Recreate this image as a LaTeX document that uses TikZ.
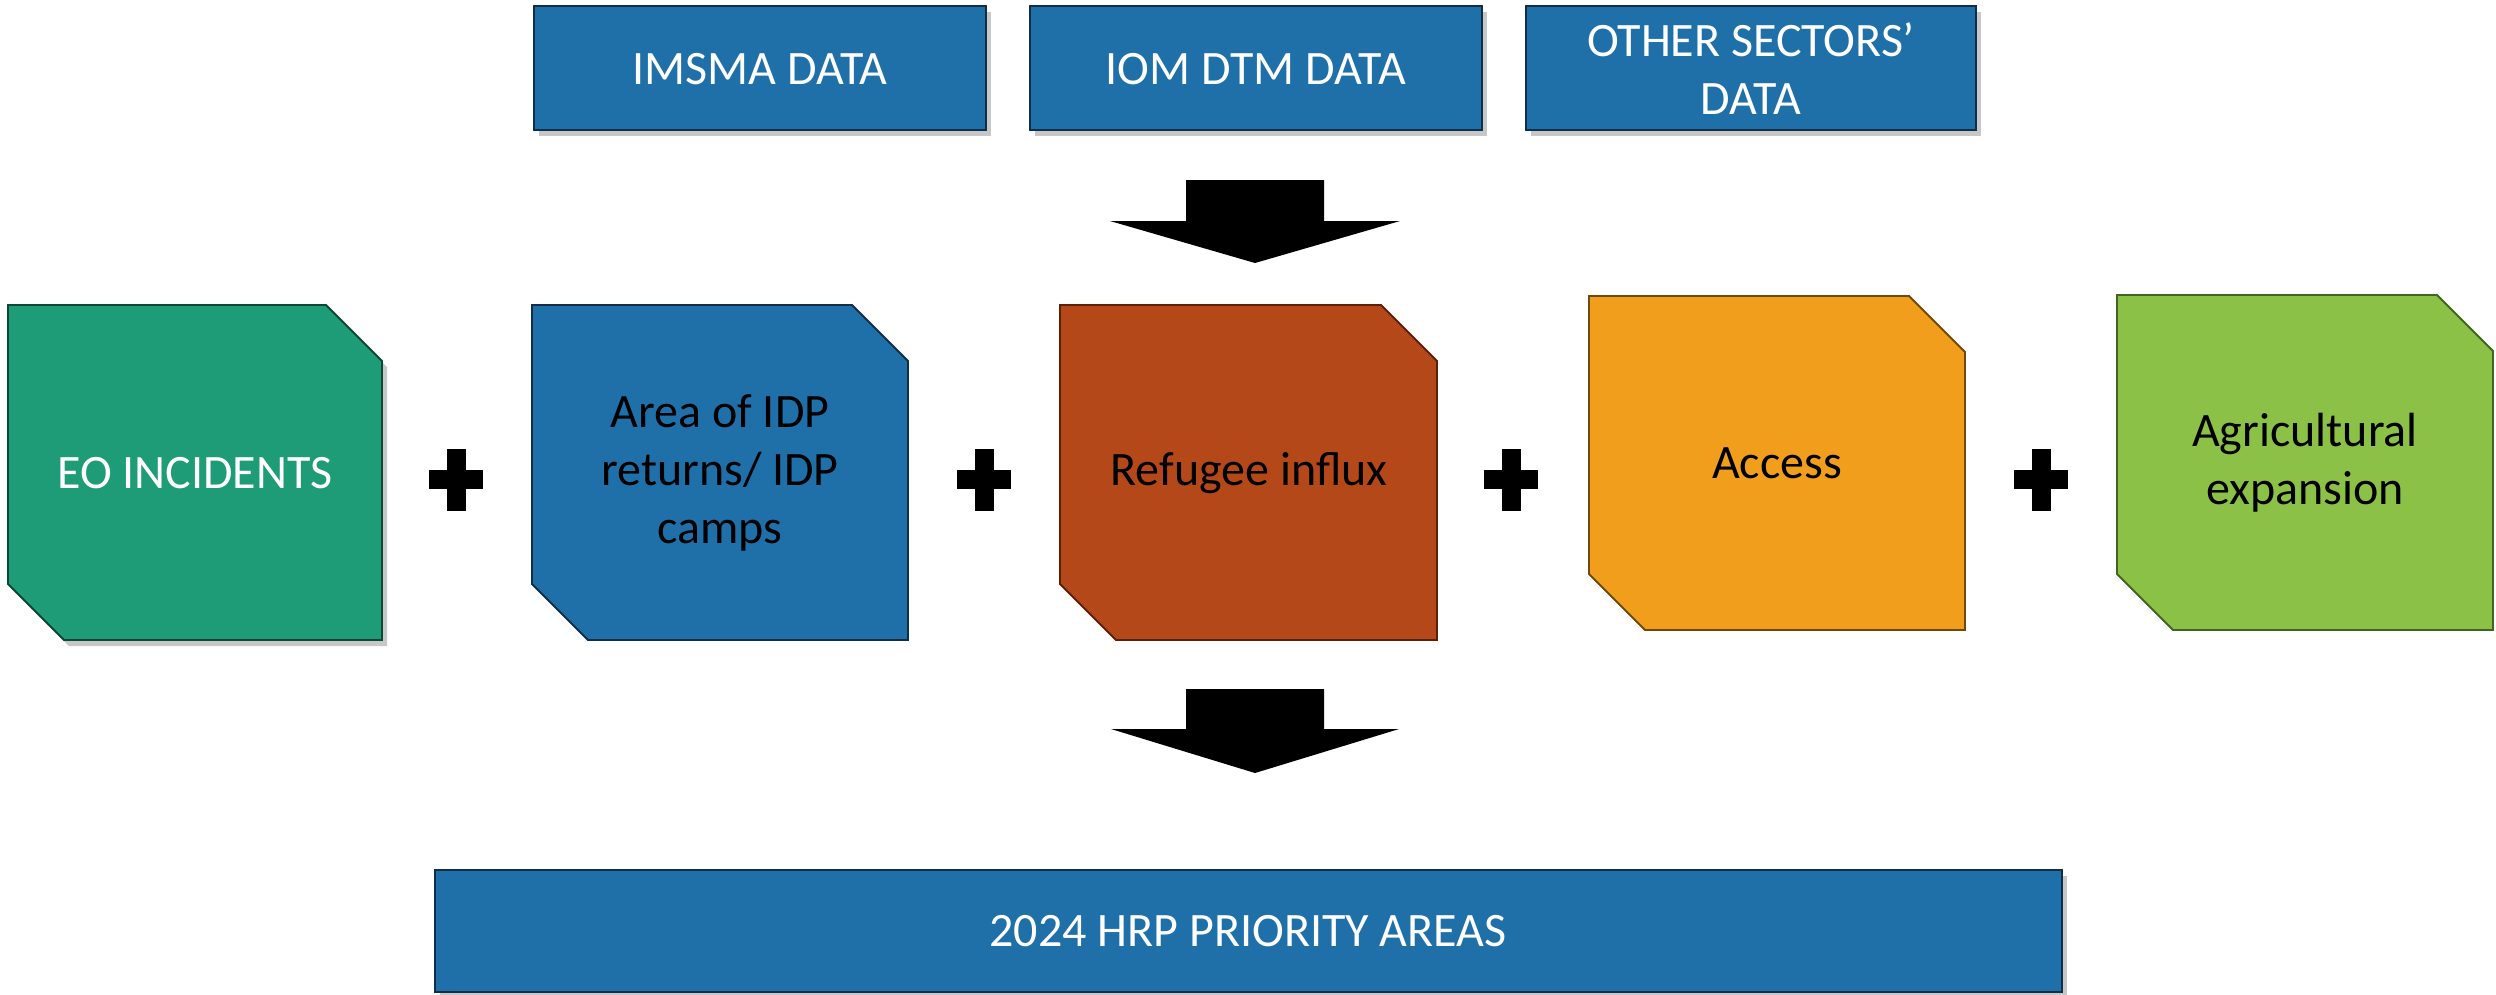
\documentclass[tikz,border=0pt]{standalone}
\usepackage{fontspec}
\setmainfont{Carlito}

\definecolor{eoGreen}{RGB}{30,155,119}
\definecolor{eoGreenLine}{RGB}{14,72,52}
\definecolor{dataBlue}{RGB}{31,112,169}
\definecolor{dataBlueLine}{RGB}{16,46,72}
\definecolor{refugeeRust}{RGB}{181,72,25}
\definecolor{refugeeRustLine}{RGB}{92,32,10}
\definecolor{accessOrange}{RGB}{241,158,29}
\definecolor{accessOrangeLine}{RGB}{110,74,12}
\definecolor{agriGreen}{RGB}{139,193,70}
\definecolor{agriGreenLine}{RGB}{66,100,30}

\tikzset{every picture/.style={line width=0.75pt}}
\tikzset{
  boxtext/.style={align=center, inner sep=0.75pt, font=\fontsize{19.2}{23.2}\selectfont},
  boxshadow/.style={fill=black, fill opacity=0.22, draw=none}
}

\begin{document}
\begin{tikzpicture}[x=0.4pt,y=0.4pt,yscale=-1,xscale=1]
		\path[use as bounding box] (0,0) rectangle (2496,994);

		%Shape: Rectangle [IMSMA]
		\path [boxshadow] (539,12) rectangle (991,136);
		\draw [color=dataBlueLine, fill=dataBlue, line width=1.1pt] (534,6) rectangle (986,130);
		%Shape: Rectangle [IOM DTM]
		\path [boxshadow] (1035,12) rectangle (1487,136);
		\draw [color=dataBlueLine, fill=dataBlue, line width=1.1pt] (1030,6) rectangle (1482,130);
		%Shape: Rectangle [other sectors]
		\path [boxshadow] (1531,12) rectangle (1981,136);
		\draw [color=dataBlueLine, fill=dataBlue, line width=1.1pt] (1526,6) rectangle (1976,130);

		%Shape: Down Arrow [top]
		\fill [black] (1186,180) -- (1324,180) -- (1324,221) -- (1400,221) -- (1255,263) -- (1110,221) -- (1186,221) -- cycle;

		%Shape: Snip Corner [EO]
		\path [boxshadow] (13,311) -- (331,311) -- (387,367) -- (387,646) -- (69,646) -- (13,590) -- cycle;
		\draw [color=eoGreenLine, fill=eoGreen] (8,305) -- (326,305) -- (382,361) -- (382,640) -- (64,640) -- (8,584) -- cycle;
		%Shape: Snip Corner [IDP]
		\draw [color=dataBlueLine, fill=dataBlue] (532,305) -- (852,305) -- (908,361) -- (908,640) -- (588,640) -- (532,584) -- cycle;
		%Shape: Snip Corner [refugee]
		\draw [color=refugeeRustLine, fill=refugeeRust] (1060,305) -- (1381,305) -- (1437,361) -- (1437,640) -- (1116,640) -- (1060,584) -- cycle;
		%Shape: Snip Corner [access]
		\draw [color=accessOrangeLine, fill=accessOrange] (1589,296) -- (1909,296) -- (1965,352) -- (1965,630) -- (1645,630) -- (1589,574) -- cycle;
		%Shape: Snip Corner [agri]
		\draw [color=agriGreenLine, fill=agriGreen] (2117,295) -- (2437,295) -- (2493,351) -- (2493,630) -- (2173,630) -- (2117,574) -- cycle;

		%Shape: Plus signs
		\foreach \px in {456,984,1511,2041} {
			\fill [black] (\px-9.5,449) rectangle (\px+9.5,511);
			\fill [black] (\px-27,470) rectangle (\px+27,489);
		}

		%Shape: Down Arrow [bottom]
		\fill [black] (1186,689) -- (1324,689) -- (1324,729) -- (1399,729) -- (1255,773) -- (1111,729) -- (1186,729) -- cycle;

		%Shape: Rectangle [HRP]
		\path [boxshadow] (440,876) rectangle (2067,998);
		\draw [color=dataBlueLine, fill=dataBlue, line width=1.1pt] (435,870) rectangle (2062,992);

		% Text Node
		\node [boxtext, text=white] (imsma) at (760,69) {IMSMA DATA};
		% Text Node
		\node [boxtext, text=white] (iomdtm) at (1256,69) {IOM DTM DATA};
		% Text Node
		\node [boxtext, text=white] (othersec) at (1751,69) {OTHER SECTORS'\\DATA};
		% Text Node
		\node [boxtext, text=white] (eo) at (195,473) {EO INCIDENTS};
		% Text Node
		\node [boxtext] (idp) at (720,473) {Area of IDP\\returns/ IDP\\camps};
		% Text Node
		\node [boxtext] (refugee) at (1249,473) {Refugee influx};
		% Text Node
		\node [boxtext] (access) at (1777,463) {Access};
		% Text Node
		\node [boxtext] (agri) at (2305,463) {Agricultural\\expansion};
		% Text Node
		\node [boxtext, text=white] (hrp) at (1248,931) {2024 HRP PRIORITY AREAS};

\end{tikzpicture}
\end{document}
